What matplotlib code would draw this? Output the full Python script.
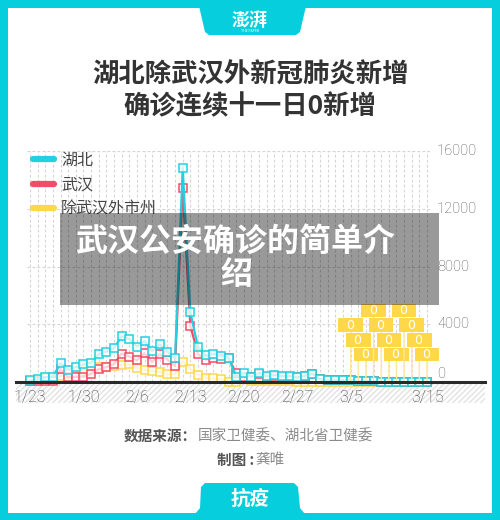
import matplotlib
matplotlib.use("Agg")
import matplotlib.pyplot as plt
import matplotlib.patches as mpatches
from matplotlib.lines import Line2D

plt.rcParams['font.family'] = ['Noto Sans CJK SC', 'DejaVu Sans']

# daily new confirmed cases, 1/23 .. 3/15
dates = (["1/%d" % d for d in range(23, 32)]
         + ["2/%d" % d for d in range(1, 30)]
         + ["3/%d" % d for d in range(1, 16)])
hubei = [105, 180, 323, 371, 1291, 840, 1032, 1220, 1347,
         1921, 2103, 2345, 3156, 2987, 2447, 2841, 2147, 2618, 2097,
         1638, 14840, 4823, 2420, 1843, 1933, 1807, 1693, 349, 631,
         366, 630, 398, 499, 401, 409, 318, 423, 570,
         196, 114, 115, 134, 126, 74, 41, 36, 17, 13, 8, 5, 4, 4, 4]
wuhan = [70, 77, 46, 80, 892, 315, 356, 378, 576,
         894, 1033, 1242, 1967, 1766, 1501, 1985, 1379, 1921, 1552,
         1104, 13436, 3910, 1923, 1548, 1690, 1600, 1660, 615, 319,
         314, 541, 348, 439, 357, 372, 313, 418, 565,
         193, 111, 114, 131, 126, 74, 41, 36, 17, 13, 8, 5, 4, 4, 4]
others = [35, 103, 277, 291, 399, 525, 676, 842, 771,
          1027, 1070, 1103, 1189, 1221, 946, 856, 768, 697, 545,
          534, 1404, 913, 497, 295, 243, 207, 33, 30, 312,
          52, 89, 50, 60, 44, 37, 5, 5, 5,
          3, 3, 1, 3, 0, 0, 0, 0, 0, 0, 0, 0, 0, 0, 0]
series_names = ["湖北", "武汉", "除武汉外市州"]
tick_dates = ["1/23", "1/30", "2/6", "2/13", "2/20", "2/27", "3/5", "3/15"]
y_ticks = [0, 4000, 8000, 12000, 16000]

CYAN = "#07CEDC"
C_HB = "#22D0E0"
C_WH = "#F24D67"
C_OT = "#FFD84A"

W, H = 500, 520


def fx(x):
    return x / W


def fy(y):
    return 1 - y / H


fig = plt.figure(figsize=(5, 5.2), dpi=100, facecolor=CYAN)

# white card
fig.patches.append(mpatches.Rectangle((fx(8), fy(513)), fx(484), 505 / H,
                                      transform=fig.transFigure, fc="white", ec="none", zorder=0))
# top tab
fig.patches.append(mpatches.Polygon([(fx(199), fy(6)), (fx(306), fy(6)), (fx(300), fy(32)),
                                     (fx(296), fy(35)), (fx(209), fy(35)), (fx(205), fy(32))],
                                    closed=True, transform=fig.transFigure, fc=CYAN, ec="none", zorder=1))
fig.text(fx(250), fy(20), "澎湃", color="white", fontsize=13, fontweight="bold",
         ha="center", va="center", style="italic")
fig.text(fx(250), fy(31), "THE PAPER", color="white", fontsize=2.5, ha="center", va="center")
# bottom tab
fig.patches.append(mpatches.Polygon([(fx(205), fy(483)), (fx(294), fy(483)), (fx(298), fy(487)),
                                     (fx(300), fy(508)), (fx(305), fy(514)), (fx(195), fy(514)),
                                     (fx(200), fy(508)), (fx(201), fy(487))],
                                    closed=True, transform=fig.transFigure, fc=CYAN, ec="none", zorder=1))
fig.text(fx(250), fy(499), "抗疫", color="white", fontsize=14, fontweight="bold",
         ha="center", va="center", style="italic")

# title
fig.text(fx(250), fy(75), "湖北除武汉外新冠肺炎新增", color="#333333", fontsize=19,
         fontweight="bold", ha="center", va="center")
fig.text(fx(250), fy(107), "确诊连续十一日0新增", color="#333333", fontsize=19,
         fontweight="bold", ha="center", va="center")

# hatched strip under the baseline
fig.patches.append(mpatches.Rectangle((fx(16), fy(403)), fx(469), 20 / H, transform=fig.transFigure,
                                      fc="white", ec="#e2e2e2", lw=0, hatch="//////", zorder=0.5))

# chart
ax = fig.add_axes([fx(27), fy(382), 403 / W, 231 / H])
ax.set_zorder(2)
px_per_day = (427 - 30) / (len(dates) - 1)
pad = 3 / px_per_day
x = list(range(len(dates)))
ax.set_xlim(-pad, len(dates) - 1 + pad)
ax.set_ylim(0, 16000)
for s in ax.spines.values():
    s.set_visible(False)
ax.set_facecolor("none")

ax.set_xticks([dates.index(d) for d in tick_dates], tick_dates)
ax.set_xticks(x, minor=True)
ax.set_yticks(y_ticks)
ax.tick_params(which="both", length=0)
ax.tick_params(axis="x", pad=6, labelsize=11.5, labelcolor="#3c3c3c")
ax.set_yticklabels([])
for lab in ax.get_xticklabels():
    lab.set_family(["Roboto", "DejaVu Sans"])
    lab.set_fontweight("light")
ax.grid(which="both", axis="x", color="#d4d4d4", lw=0.8, ls=(0, (2.5, 2)))
ax.grid(axis="y", color="#d4d4d4", lw=0.8, ls=(0, (2.5, 2)))
ax.yaxis.get_gridlines()[0].set_visible(False)

for v in y_ticks:
    ax.annotate(str(v), xy=(1, v), xycoords=("axes fraction", "data"),
                xytext=(5, 6 if v == 0 else 0), textcoords="offset points",
                ha="left", va="center", fontsize=10.5, color="#555555",
                family=["Roboto", "DejaVu Sans"], fontweight="light", annotation_clip=False)

for vals, col, z in [(others, C_OT, 3), (wuhan, C_WH, 4), (hubei, C_HB, 5)]:
    ax.plot(x, vals, color=col, lw=1.6, marker="s", ms=5.2, mfc=(1, 1, 1, 0.75),
            mec=col, mew=1.1, zorder=z, clip_on=False)

# zero-day labels for the outside-Wuhan series
levels = [51.5, 41, 30.2, 19.8]
streak = [i for i in x if others[i] == 0 and all(v == 0 for v in others[i:])]
for k, i in enumerate(streak):
    ax.annotate("  %d  " % others[i], xy=(i, others[i]), xytext=(0, levels[(k + 1) % 4]),
                textcoords="offset points", ha="center", va="center", color="white",
                fontsize=9, family=["DejaVu Sans"], zorder=8, annotation_clip=False,
                bbox=dict(boxstyle="square,pad=0.02", fc=C_OT, ec="none"),
                arrowprops=dict(arrowstyle="-", color="#FFE7A0", lw=1, shrinkA=0, shrinkB=0))

# legend
handles = [Line2D([], [], color=c, lw=4.5, solid_capstyle="round") for c in (C_HB, C_WH, C_OT)]
leg = fig.legend(handles, series_names, loc="upper left", bbox_to_anchor=(fx(33), fy(152)),
                 frameon=False, fontsize=11.5, handlelength=1.3, handletextpad=0.45,
                 labelspacing=0.45, borderpad=0, borderaxespad=0, labelcolor="#444444")
leg.set_zorder(9)

# baseline
fig.lines.append(Line2D([fx(16), fx(485)], [fy(382), fy(382)], transform=fig.transFigure,
                        color="#2a2a2a", lw=2.2, zorder=6))

# overlay caption
fig.patches.append(mpatches.Rectangle((fx(60), fy(305)), fx(379), 92 / H, transform=fig.transFigure,
                                      fc="black", alpha=0.4, ec="none", zorder=20))
fig.text(fx(236), fy(258), "武汉公安确诊的简单介\n绍", color="white", fontsize=23, fontweight="bold",
         ha="center", va="center", multialignment="center", linespacing=1.05, zorder=21)

# footer
fig.text(fx(197), fy(436), "数据来源：", color="#555555", fontsize=10.5, fontweight="bold",
         ha="right", va="center")
fig.text(fx(198), fy(436), "国家卫健委、湖北省卫健委", color="#8a8a8a", fontsize=10.5,
         ha="left", va="center")
fig.text(fx(254), fy(460), "制图 :", color="#555555", fontsize=10.5, fontweight="bold",
         ha="right", va="center")
fig.text(fx(255), fy(460), "龚唯", color="#8a8a8a", fontsize=10.5, ha="left", va="center")

fig.savefig("out.png", dpi=100, facecolor=CYAN)
